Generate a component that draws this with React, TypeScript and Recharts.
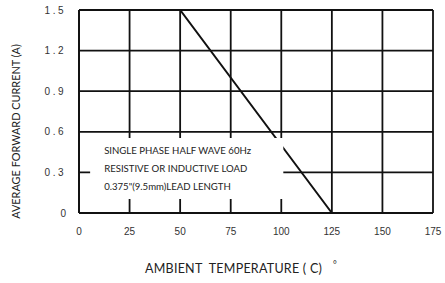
import {
  CartesianGrid,
  ComposedChart,
  Label,
  Line,
  ReferenceArea,
  XAxis,
  YAxis,
} from "recharts";

// derating curve: ambient temperature (C) vs average forward current (A)
const temperatures = [0, 50, 125];
const currents = [1.5, 1.5, 0];

const xTicks = [0, 25, 50, 75, 100, 125, 150, 175];
const yTicks = [0, 0.3, 0.6, 0.9, 1.2, 1.5];

const noteLines = [
  "SINGLE PHASE HALF WAVE 60Hz",
  "RESISTIVE OR INDUCTIVE LOAD",
  '0.375"(9.5mm)LEAD LENGTH',
];

const data = temperatures.map((t, i) => ({ t, amps: currents[i] }));

const labelFont = "Lato, 'Open Sans', sans-serif";
const tickFont = "'Liberation Sans', Arial, sans-serif";

function NoteText({ viewBox }: any) {
  if (!viewBox) return null;
  const { x, y } = viewBox;
  return (
    <g>
      {noteLines.map((line, i) => (
        <text
          key={line}
          x={x + 14}
          y={y + 16 + i * 18}
          fontSize={9.6}
          fontFamily={labelFont}
          fill="#222"
        >
          {line}
        </text>
      ))}
    </g>
  );
}

function YTick({ x, y, payload }: any) {
  const v = payload.value as number;
  return (
    <text
      x={x}
      y={y}
      textAnchor="end"
      dominantBaseline="central"
      fontSize={10}
      fontFamily={tickFont}
      fill="#333"
      letterSpacing={v === 0 ? 0 : 2.5}
    >
      {v === 0 ? "0" : v.toFixed(1)}
    </text>
  );
}

function YTitle({ viewBox }: any) {
  if (!viewBox) return null;
  const cx = viewBox.x + 15;
  const cy = viewBox.y + viewBox.height / 2 + 20;
  return (
    <text
      x={cx}
      y={cy}
      transform={`rotate(-90 ${cx} ${cy})`}
      textAnchor="middle"
      dominantBaseline="central"
      fontSize={10.9}
      fontFamily={labelFont}
      fill="#222"
    >
      AVERAGE FORWARD CURRENT (A)
    </text>
  );
}

function XTitle({ viewBox }: any) {
  if (!viewBox) return null;
  const cx = viewBox.x + 66;
  const cy = viewBox.y + 60;
  return (
    <text
      x={cx}
      y={cy}
      fontSize={12.5}
      letterSpacing={0.25}
      fontFamily={labelFont}
      fill="#222"
    >
      {"AMBIENT\u00a0\u00a0TEMPERATURE ( C)"}
      <tspan dx={11} dy={-5} fontSize={9}>
        °
      </tspan>
    </text>
  );
}

export default function App() {
  return (
    <div style={{ position: "absolute", left: 0, top: 0, background: "#fff" }}>
      <ComposedChart
        width={445}
        height={283}
        data={data}
        margin={{ top: 10, right: 12, bottom: 0, left: 0 }}
      >
        <CartesianGrid stroke="#111" strokeWidth={1.8} />
        <XAxis
          type="number"
          dataKey="t"
          domain={[0, 175]}
          ticks={xTicks}
          height={70}
          tickSize={0}
          tickMargin={15}
          axisLine={{ stroke: "#111", strokeWidth: 1.8 }}
          tick={{ fontSize: 10, fill: "#333", fontFamily: tickFont }}
          label={<XTitle />}
        />
        <YAxis
          type="number"
          domain={[0, 1.5]}
          ticks={yTicks}
          width={79}
          tickSize={0}
          tickMargin={13}
          axisLine={{ stroke: "#111", strokeWidth: 1.8 }}
          tick={<YTick />}
          label={<YTitle />}
        />
        <Line
          type="linear"
          dataKey="amps"
          stroke="#111"
          strokeWidth={2}
          dot={false}
          isAnimationActive={false}
          zIndex={300}
        />
        <ReferenceArea
          x1={5.5}
          x2={101}
          y1={0.103}
          y2={0.554}
          fill="#fff"
          fillOpacity={1}
          stroke="none"
          zIndex={1000}
        >
          <Label content={<NoteText />} />
        </ReferenceArea>
      </ComposedChart>
    </div>
  );
}
